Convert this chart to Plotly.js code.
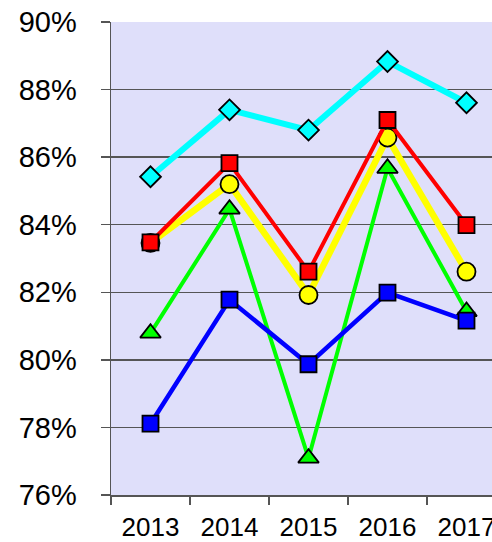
<!DOCTYPE html>
<html>
<head>
<meta charset="utf-8">
<script src="https://cdn.plot.ly/plotly-3.0.1.min.js"></script>
<style>
html, body { margin: 0; padding: 0; overflow: hidden; background: #fff; }
#chart { width: 520px; height: 542px; }
</style>
</head>
<body>
<div id="chart"></div>
<script>
const years = ['2013', '2014', '2015', '2016', '2017'];
const cyanValues   = [0.8542, 0.8740, 0.8680, 0.8883, 0.8761];
const greenValues  = [0.8079, 0.8446, 0.7709, 0.8567, 0.8143];
const yellowValues = [0.8346, 0.8520, 0.8192, 0.8658, 0.8261];
const redValues    = [0.8348, 0.8582, 0.8261, 0.8710, 0.8399];
const blueValues   = [0.7811, 0.8178, 0.7987, 0.8199, 0.8116];
const yTicks = [0.76, 0.78, 0.80, 0.82, 0.84, 0.86, 0.88, 0.90];

function series(y, color, lineWidth, symbol, size) {
  return {
    x: years, y: y, type: 'scatter', mode: 'lines+markers',
    line: { color: color, width: lineWidth },
    marker: { color: color, symbol: symbol, size: size, line: { color: '#000', width: 1.8 } },
    hoverinfo: 'none', showlegend: false, cliponaxis: false
  };
}

const data = [
  series(cyanValues, '#00FFFF', 6, 'diamond', 16),
  series(greenValues, '#00FF00', 4, 'triangle-up', 18),
  series(yellowValues, '#FFFF00', 6.5, 'circle', 18),
  series(redValues, '#FF0000', 4, 'square', 16),
  series(blueValues, '#0000FF', 4.5, 'square', 16)
];

const layout = {
  width: 520, height: 542,
  margin: { l: 111, r: 14, t: 22, b: 47 },
  paper_bgcolor: '#FFFFFF',
  plot_bgcolor: '#DFDFFA',
  font: { family: 'Liberation Sans, Arial, sans-serif', color: '#000' },
  xaxis: {
    type: 'category', range: [-0.5, 4.5], fixedrange: true,
    showgrid: false, zeroline: false,
    showline: true, linecolor: '#555', linewidth: 1.5,
    ticks: 'outside', tickson: 'boundaries', ticklen: 8, tickcolor: '#555', tickwidth: 1.5,
    tickfont: { size: 26, color: '#000' }, ticklabelstandoff: 8
  },
  yaxis: {
    range: [0.76, 0.90], fixedrange: true,
    tickvals: yTicks, tickformat: '.0%',
    showgrid: true, gridcolor: '#555', gridwidth: 1.5, zeroline: false,
    showline: true, linecolor: '#555', linewidth: 1.5,
    ticks: 'outside', ticklen: 9, tickcolor: '#555', tickwidth: 1.5,
    tickfont: { size: 29, color: '#000' }, ticklabelstandoff: 18
  }
};

Plotly.newPlot('chart', data, layout, { staticPlot: true, displayModeBar: false });
</script>
</body>
</html>
